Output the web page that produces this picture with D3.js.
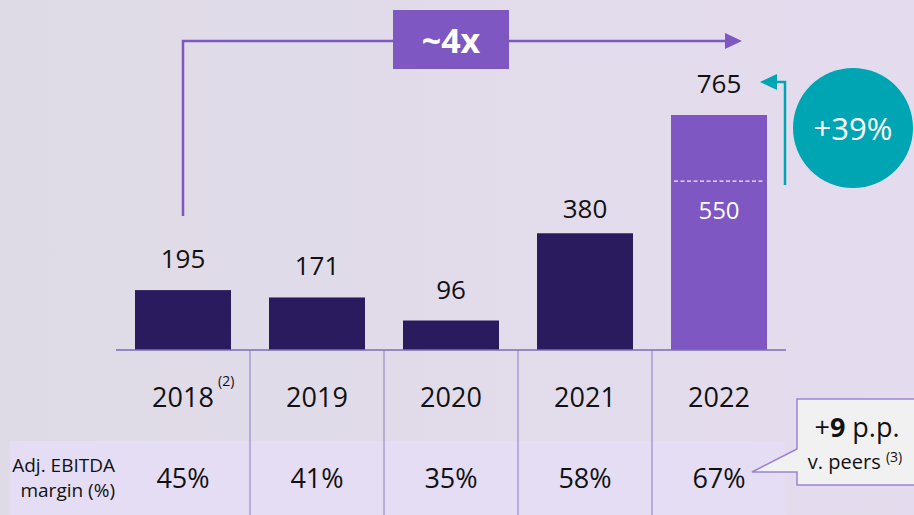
<!DOCTYPE html>
<html>
<head>
<meta charset="utf-8">
<script src="https://cdn.jsdelivr.net/npm/d3@7"></script>
<style>
  html, body { margin: 0; padding: 0; }
  body { width: 914px; height: 515px; overflow: hidden; font-family: "Open Sans", Roboto, sans-serif; }
</style>
</head>
<body>
<svg id="chart" width="914" height="515"></svg>
<script>
const years = ['2018', '2019', '2020', '2021', '2022'];
const ebitda = [195, 171, 96, 380, 765];
const margins = ['45%', '41%', '35%', '58%', '67%'];
const baseline2022 = 550;
const growthLabel = '~4x';
const yoyLabel = '+39%';

const W = 914, H = 515;
const axisY = 350;
const dark = '#2a1a5e', purple = '#7e57c2', teal = '#00a5b4';

const svg = d3.select('#chart');

// background
const defs = svg.append('defs');
const grad = defs.append('linearGradient').attr('id', 'bg').attr('x1', 0).attr('y1', 0).attr('x2', 1).attr('y2', 0);
grad.append('stop').attr('offset', '0%').attr('stop-color', '#dfdbe6');
grad.append('stop').attr('offset', '100%').attr('stop-color', '#e4dcee');
svg.append('rect').attr('width', W).attr('height', H).attr('fill', 'url(#bg)');

const x = d3.scaleBand().domain(years).range([116, 786]).paddingInner(0.2836).paddingOuter(0.1418);
const y = d3.scaleLinear().domain([0, d3.max(ebitda)]).range([axisY, 115]);
const cx = d => x(d) + x.bandwidth() / 2;

// margin row band
svg.append('rect').attr('x', 10).attr('y', 441).attr('width', 776).attr('height', H - 441).attr('fill', '#e5ddf3');

// column separators
svg.append('g').selectAll('line')
  .data(years.slice(1))
  .join('line')
  .attr('x1', d => x(d) - x.step() * x.paddingInner() / 2)
  .attr('x2', d => x(d) - x.step() * x.paddingInner() / 2)
  .attr('y1', axisY).attr('y2', H)
  .attr('stroke', '#8b7fc2').attr('stroke-width', 1);

// bars
svg.append('g').selectAll('rect')
  .data(years)
  .join('rect')
  .attr('x', d => x(d))
  .attr('y', (d, i) => y(ebitda[i]))
  .attr('width', x.bandwidth())
  .attr('height', (d, i) => axisY - y(ebitda[i]))
  .attr('fill', (d, i) => i === years.length - 1 ? purple : dark);

// axis line
svg.append('line').attr('x1', 116).attr('x2', 786).attr('y1', axisY).attr('y2', axisY)
  .attr('stroke', '#7a6cb8').attr('stroke-width', 1.5);

// value labels (tall 2021 bar sits a little closer to its label)
svg.append('g').selectAll('text')
  .data(years)
  .join('text')
  .attr('x', d => cx(d))
  .attr('y', (d, i) => y(ebitda[i]) - (i === 3 ? 15 : 22))
  .attr('text-anchor', 'middle')
  .attr('font-size', 26)
  .attr('fill', '#111')
  .text((d, i) => ebitda[i]);

// 2022 split line + 550
const last = years[years.length - 1];
svg.append('line')
  .attr('x1', x(last) + 3).attr('x2', x(last) + x.bandwidth() - 4)
  .attr('y1', y(baseline2022)).attr('y2', y(baseline2022))
  .attr('stroke', '#f3eefb').attr('stroke-width', 1.3).attr('stroke-dasharray', '4,2.5');
svg.append('text')
  .attr('x', cx(last)).attr('y', y(baseline2022) + 38)
  .attr('text-anchor', 'middle').attr('font-size', 24).attr('fill', '#fff')
  .text(baseline2022);

// year labels
const yearG = svg.append('g');
yearG.selectAll('text')
  .data(years)
  .join('text')
  .attr('x', d => cx(d))
  .attr('y', 407)
  .attr('text-anchor', 'middle')
  .attr('font-size', 27)
  .attr('fill', '#111')
  .text(d => d);
yearG.append('text')
  .attr('x', cx(years[0]) + 35).attr('y', 386)
  .attr('font-size', 14).attr('fill', '#111').text('(2)');

// margin row
svg.append('text').attr('x', 115).attr('y', 472).attr('text-anchor', 'end')
  .attr('font-size', 19).attr('fill', '#111').text('Adj. EBITDA');
svg.append('text').attr('x', 115).attr('y', 497).attr('text-anchor', 'end')
  .attr('font-size', 19).attr('fill', '#111').text('margin (%)');
svg.append('g').selectAll('text')
  .data(years)
  .join('text')
  .attr('x', d => cx(d))
  .attr('y', 488)
  .attr('text-anchor', 'middle')
  .attr('font-size', 27)
  .attr('fill', '#111')
  .text((d, i) => margins[i]);

// ~4x growth arrow
const topY = 41;
const x0 = cx(years[0]);
svg.append('path')
  .attr('d', `M${x0},${y(ebitda[0]) - 74} V${topY} H727`)
  .attr('fill', 'none').attr('stroke', purple).attr('stroke-width', 2.5);
svg.append('path')
  .attr('d', `M725,${topY - 8} L742,${topY} L725,${topY + 8} Z`)
  .attr('fill', purple);
svg.append('rect').attr('x', 393).attr('y', 10).attr('width', 116).attr('height', 59).attr('fill', purple);
svg.append('text').attr('x', 451).attr('y', 53).attr('text-anchor', 'middle')
  .attr('font-size', 34).attr('font-weight', 'bold').attr('fill', '#fff').text(growthLabel);

// +39% teal arrow and circle
const ax = 785;
const labelY = y(d3.max(ebitda)) - 33;
svg.append('path')
  .attr('d', `M${ax},${y(baseline2022) + 4} V${labelY} H774`)
  .attr('fill', 'none').attr('stroke', teal).attr('stroke-width', 2.5);
svg.append('path')
  .attr('d', `M777,${labelY - 8} L760,${labelY} L777,${labelY + 8} Z`)
  .attr('fill', teal);
svg.append('circle').attr('cx', 853).attr('cy', 128).attr('r', 60).attr('fill', teal);
svg.append('text').attr('x', 853).attr('y', 140).attr('text-anchor', 'middle')
  .attr('font-size', 31).attr('fill', '#fff').text(yoyLabel);

// callout
svg.append('path')
  .attr('d', `M797,399 H916 V485 H797 V472 H752 L797,449 Z`)
  .attr('fill', '#f1f1f2').attr('stroke', '#9c82d6').attr('stroke-width', 1.5);
const c1 = svg.append('text').attr('x', 857).attr('y', 437).attr('text-anchor', 'middle')
  .attr('font-size', 27).attr('fill', '#111');
c1.append('tspan').text('+');
c1.append('tspan').attr('font-weight', 'bold').text('9');
c1.append('tspan').text(' p.p.');
const c2 = svg.append('text').attr('x', 855).attr('y', 469).attr('text-anchor', 'middle')
  .attr('font-size', 20).attr('fill', '#111');
c2.append('tspan').text('v. peers ');
c2.append('tspan').attr('font-size', 14).attr('dy', -7).text('(3)');
</script>
</body>
</html>
